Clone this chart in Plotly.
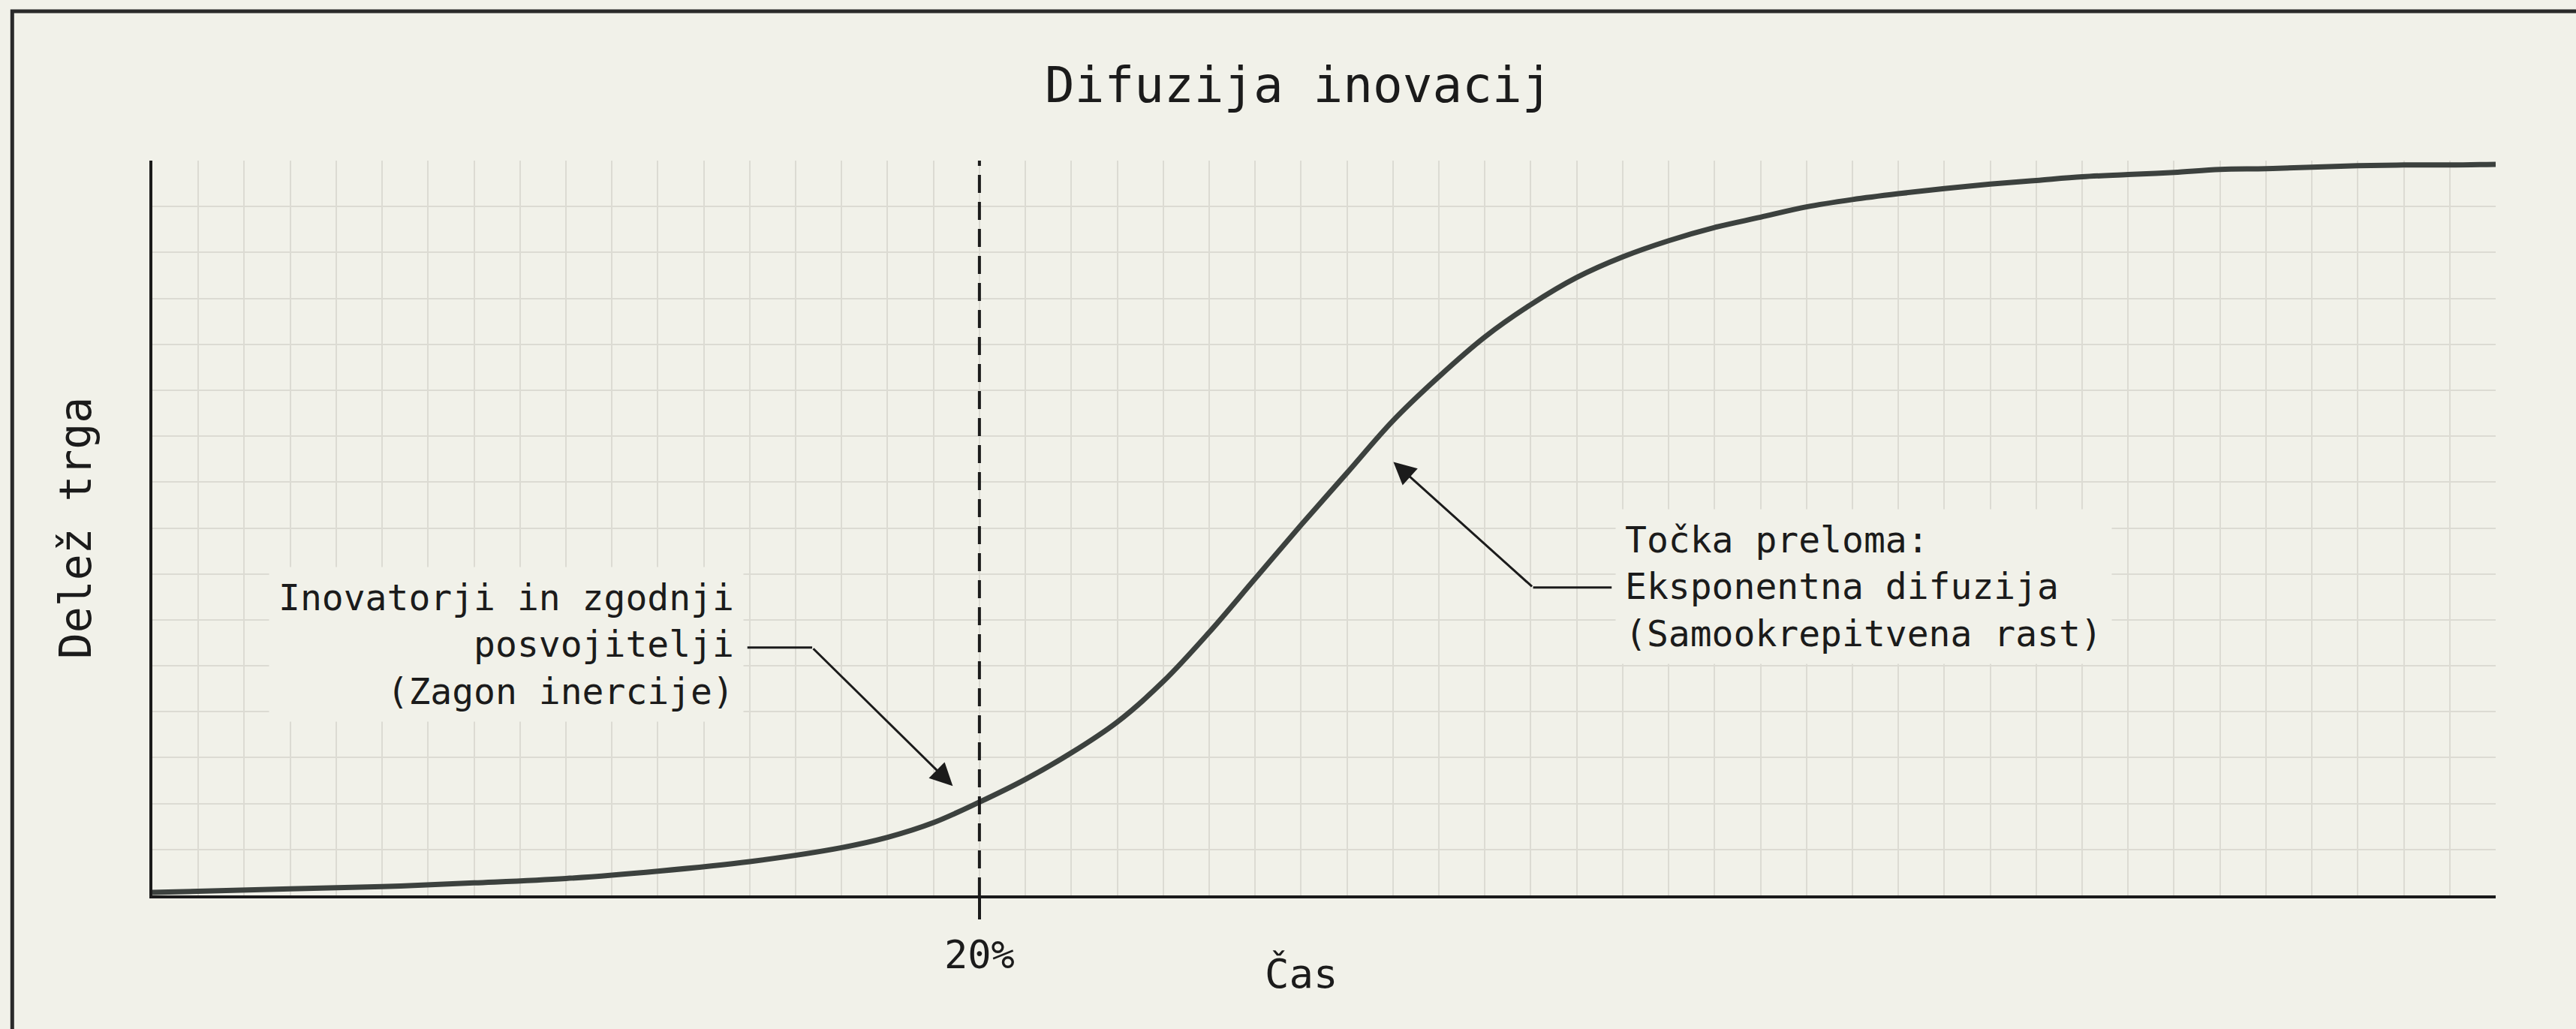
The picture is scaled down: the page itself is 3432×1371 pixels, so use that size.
import plotly.graph_objects as go

# ---- data ----
time_units = [0, 3, 5, 7, 9, 11, 13, 15, 16, 17, 18, 19, 20, 21, 22, 23, 24, 25, 26, 27,
              28, 29, 30, 31, 32, 33, 34, 35, 36, 37, 38, 39, 40, 41, 42, 43, 44, 45, 46,
              47, 48, 49, 50, 51]
market_share = [0.4, 0.9, 1.2, 1.7, 2.3, 3.3, 4.6, 6.5, 7.9, 9.9, 12.7, 15.8, 19.4, 23.6,
                29.1, 35.8, 43.1, 50.4, 57.5, 64.6, 70.6, 76.0, 80.4, 84.1, 86.9, 89.1,
                90.9, 92.3, 93.7, 94.7, 95.5, 96.2, 96.8, 97.3, 97.8, 98.1, 98.4, 98.8,
                98.9, 99.1, 99.3, 99.4, 99.4, 99.5]
x_tick_vals = [18]
x_tick_text = ["20%"]

title_text = "Difuzija inovacij"
x_title = "Čas"
y_title = "Delež trga"
note_left = "Inovatorji in zgodnji<br>posvojitelji<br>(Zagon inercije)"
note_right = "Točka preloma:<br>Eksponentna difuzija<br>(Samookrepitvena rast)"

# ---- styles ----
BG = "#f1f1e9"
GRID = "#dcdbd3"
INK = "#1b1b1b"
CURVE = "#3c413e"
FONT = "DejaVu Sans Mono"
X_MAX = 51
Y_MAX = 100

fig = go.Figure()
fig.add_trace(go.Scatter(
    x=time_units, y=market_share, mode="lines",
    line=dict(color=CURVE, width=7, shape="spline", smoothing=1.0),
    hoverinfo="skip", showlegend=False,
))

# dashed vertical marker at the labelled tick
for tv in x_tick_vals:
    fig.add_shape(type="line", xref="x", yref="y", x0=tv, x1=tv, y0=0, y1=Y_MAX,
                  line=dict(color=INK, width=4, dash="24px,12px"), layer="above")

# left annotation with elbow arrow
fig.add_annotation(x=12.88, y=34.2, xref="x", yref="y", text=note_left,
                   showarrow=False, xanchor="right", yanchor="middle", align="right",
                   font=dict(family=FONT, size=48, color=INK), bgcolor=BG, borderpad=12)
fig.add_shape(type="line", xref="x", yref="y", x0=12.95, x1=14.36, y0=33.73, y1=33.73,
              line=dict(color=INK, width=3))
fig.add_annotation(x=17.42, y=14.9, ax=14.36, ay=33.73, xref="x", yref="y",
                   axref="x", ayref="y", text="", showarrow=True, arrowhead=2,
                   arrowsize=2, arrowwidth=3, arrowcolor=INK, standoff=0, startstandoff=0)

# right annotation with elbow arrow
fig.add_annotation(x=31.83, y=42.0, xref="x", yref="y", text=note_right,
                   showarrow=False, xanchor="left", yanchor="middle", align="left",
                   font=dict(family=FONT, size=48, color=INK), bgcolor=BG, borderpad=12)
fig.add_shape(type="line", xref="x", yref="y", x0=31.76, x1=30.05, y0=41.9, y1=41.9,
              line=dict(color=INK, width=3))
fig.add_annotation(x=27.01, y=59.0, ax=30.05, ay=41.9, xref="x", yref="y",
                   axref="x", ayref="y", text="", showarrow=True, arrowhead=2,
                   arrowsize=2, arrowwidth=3, arrowcolor=INK, standoff=0, startstandoff=0)

# x-axis title placed as in the reference (closer than plotly's automatic spot)
fig.add_annotation(x=0.4904, y=-0.107, xref="paper", yref="paper", text=x_title,
                   showarrow=False, xanchor="center", yanchor="middle",
                   font=dict(family=FONT, size=54, color=INK))

# outer frame (only left/top edges fall inside the picture)
fig.add_shape(type="rect", xref="paper", yref="paper", x0=-0.0598, x1=1.2,
              y0=-0.4, y1=1.2033, line=dict(color="#2a2a2a", width=5), layer="below")

fig.update_layout(
    width=3432, height=1371,
    margin=dict(l=203, r=107, t=214, b=178),
    paper_bgcolor=BG, plot_bgcolor=BG,
    font=dict(family=FONT, color=INK),
    title=dict(text=title_text, x=0.504, xanchor="center", y=0.918, yanchor="middle",
               font=dict(family=FONT, size=66, color=INK)),
    showlegend=False,
)
fig.update_xaxes(
    range=[0, X_MAX], showline=True, linecolor=INK, linewidth=4, mirror=False,
    tickmode="array", tickvals=x_tick_vals, ticktext=x_tick_text,
    ticks="outside", ticklen=28, tickwidth=4, tickcolor=INK,
    ticklabelstandoff=3,
    tickfont=dict(family=FONT, size=52, color=INK),
    showgrid=False, zeroline=False,
    minor=dict(tickmode="linear", tick0=0, dtick=1, showgrid=True,
               gridcolor=GRID, gridwidth=2, ticks=""),
    fixedrange=True,
)
fig.update_yaxes(
    range=[0, Y_MAX], showline=True, linecolor=INK, linewidth=4,
    tickmode="linear", tick0=0, dtick=Y_MAX / 16, showticklabels=False, ticks="",
    showgrid=True, gridcolor=GRID, gridwidth=2, zeroline=False,
    title=dict(text=y_title, font=dict(family=FONT, size=58, color=INK), standoff=60),
    fixedrange=True,
)

fig.write_html("out.html", config={"displayModeBar": False},
               post_script="document.body.style.margin='0';document.body.style.overflow='hidden';")
